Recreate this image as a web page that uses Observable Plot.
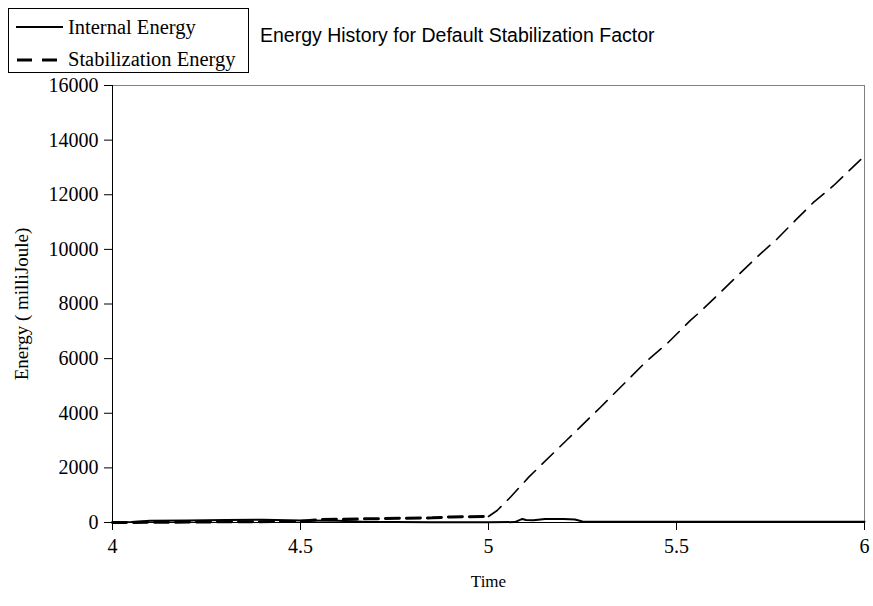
<!DOCTYPE html>
<html>
<head>
<meta charset="utf-8">
<script src="https://cdn.jsdelivr.net/npm/d3@7"></script>
<script src="https://cdn.jsdelivr.net/npm/@observablehq/plot@0.6"></script>
<style>
  html, body { margin: 0; padding: 0; background: #fff; }
  #wrap { position: relative; width: 873px; height: 606px; }
  #legend { position: absolute; left: 8px; top: 8px; width: 239px; height: 63px; border: 1px solid #000; box-sizing: content-box; background: #fff;
            font-family: "Liberation Serif", "Times New Roman", serif; font-size: 20.5px; color: #000; }
  .row { position: absolute; left: 0; height: 24px; }
  .row svg { position: absolute; left: 7px; top: 0; }
  .row span { position: absolute; left: 59px; top: 0px; line-height: 24px; white-space: nowrap; }
  #title { position: absolute; left: 260px; top: 24px; font-family: "Liberation Sans", Arial, sans-serif; font-size: 19.5px; color: #000; white-space: nowrap; }
</style>
</head>
<body>
<div id="wrap">
  <div id="chart"></div>
  <div id="legend">
    <div class="row" style="top:6px"><svg width="48" height="24"><line x1="0" x2="47" y1="12" y2="12" stroke="#000" stroke-width="2"/></svg><span>Internal Energy</span></div>
    <div class="row" style="top:38px"><svg width="48" height="24"><line x1="1" x2="47" y1="13" y2="13" stroke="#000" stroke-width="3" stroke-dasharray="15,10"/></svg><span>Stabilization Energy</span></div>
  </div>
  <div id="title">Energy History for Default Stabilization Factor</div>
</div>
<script>
// Internal energy (milliJoule) vs time
const internalTime  = [4.0, 4.05, 4.1, 4.2, 4.3, 4.4, 4.5, 4.6, 4.68, 4.75, 4.85, 5.0, 5.07, 5.09, 5.1, 5.12, 5.15, 5.2, 5.23, 5.25, 5.3, 5.5, 5.75, 6.0];
const internalValue = [10, 20, 60, 70, 95, 100, 75, 60, 20, 15, 10, 10, 15, 130, 90, 80, 125, 130, 110, 40, 30, 30, 30, 30];

// Stabilization energy (milliJoule) vs time
const stabTime  = [4.0, 4.15, 4.3, 4.5, 4.55, 4.7, 4.85, 4.9, 5.0, 5.023, 5.06, 5.107, 5.13, 5.209, 5.271, 5.298, 5.369, 5.422, 5.475, 5.537, 5.564, 5.608, 5.714, 5.768, 5.816, 5.865, 5.918, 6.0];
const stabValue = [0, 10, 25, 40, 110, 140, 170, 205, 220, 440, 950, 1660, 1970, 3030, 3860, 4220, 5200, 5930, 6550, 7400, 7730, 8310, 9720, 10390, 11060, 11730, 12340, 13420];

// Axis ticks
const xTicks = [4, 4.5, 5, 5.5, 6];
const yTicks = [0, 2000, 4000, 6000, 8000, 10000, 12000, 14000, 16000];

const internal = internalTime.map((t, i) => ({time: t, energy: internalValue[i]}));
const stab = stabTime.map((t, i) => ({time: t, energy: stabValue[i]}));
const stabEarly = stab.filter(d => d.time <= 5.0);
const stabLate = stab.filter(d => d.time >= 5.0);

const serif = "Liberation Serif";

const chart = Plot.plot({
  width: 873,
  height: 606,
  marginLeft: 112,
  marginRight: 9,
  marginTop: 85,
  marginBottom: 84,
  style: {fontFamily: serif, fontSize: "20px", color: "#000", background: "#fff"},
  x: {domain: [4, 6], label: null},
  y: {domain: [0, 16000], label: null},
  marks: [
    Plot.ruleY([16000], {stroke: "#808080", strokeWidth: 1}),
    Plot.ruleX([6], {stroke: "#808080", strokeWidth: 1}),
    Plot.axisX({ticks: xTicks, tickSize: 8, tickFormat: () => "", label: null}),
    Plot.axisY({ticks: yTicks, tickSize: 8, tickFormat: () => "", label: null}),
    Plot.text(xTicks, {x: d => d, y: 0, dy: 24, lineAnchor: "middle", text: d => String(d), fontSize: 20, fontFamily: serif, fill: "#000"}),
    Plot.text(yTicks, {y: d => d, x: 4, dx: -14, textAnchor: "end", lineAnchor: "middle", text: d => String(d), fontSize: 20, fontFamily: serif, fill: "#000"}),
    Plot.line(internal, {x: "time", y: "energy", stroke: "#000", strokeWidth: 2}),
    Plot.line(stabEarly, {x: "time", y: "energy", stroke: "#000", strokeWidth: 3, strokeDasharray: "14,7"}),
    Plot.line(stabLate, {x: "time", y: "energy", stroke: "#000", strokeWidth: 1.6, strokeDasharray: "16,9"}),
    Plot.ruleX([4], {stroke: "#000", strokeWidth: 1}),
    Plot.ruleY([0], {stroke: "#000", strokeWidth: 1}),
    Plot.text(["Time"], {frameAnchor: "bottom", dy: 64, fontSize: 17, fontFamily: serif}),
    Plot.text(["Energy ( milliJoule)"], {frameAnchor: "left", dx: -91, rotate: -90, textAnchor: "middle", fontSize: 19, fontFamily: serif})
  ]
});
document.getElementById("chart").appendChild(chart);
</script>
</body>
</html>
